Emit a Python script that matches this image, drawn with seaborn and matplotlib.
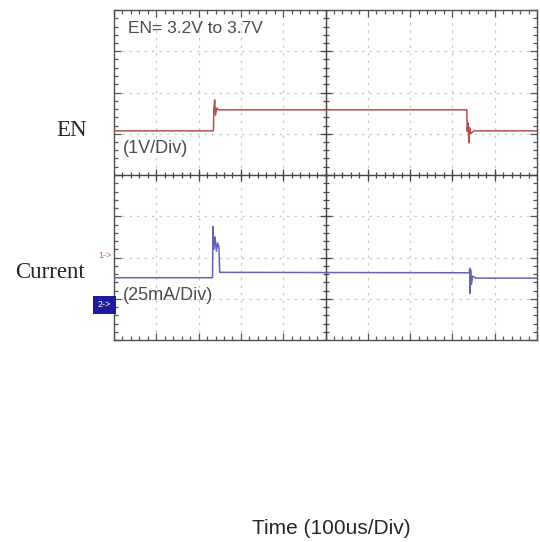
import numpy as np
import pandas as pd
import matplotlib
matplotlib.use("Agg")
import matplotlib.pyplot as plt
import seaborn as sns

# traces in screen divisions (x: 0..10 div, y: 0..8 div)
en_t = [0, 2.35, 2.36, 2.38, 2.40, 2.43, 2.47, 8.34, 8.35, 8.37, 8.39, 8.41, 8.44, 8.50, 10]
en_v = [5.07, 5.07, 5.60, 5.82, 5.45, 5.62, 5.58, 5.58, 5.06, 5.26, 4.78, 5.15, 5.00, 5.07, 5.07]

cur_t = [0, 2.33, 2.34, 2.36, 2.39, 2.42, 2.45, 2.48, 2.50, 8.40, 8.41, 8.42, 8.43, 8.45, 8.48, 8.55, 10]
cur_v = [1.51, 1.51, 2.75, 2.20, 2.50, 2.15, 2.35, 2.26, 1.64, 1.63, 1.74, 1.13, 1.70, 1.35, 1.55, 1.50, 1.50]

en_color = "#b55050"
cur_color = "#6262b8"

sns.set_style("white")
plt.rcParams['font.family'] = ['Liberation Sans', 'DejaVu Sans']

fig = plt.figure(figsize=(5.4, 5.42), dpi=100)
ax = fig.add_axes([114 / 540, 1 - 340 / 542, 423 / 540, 330 / 542])

df_en = pd.DataFrame({"t": en_t, "v": en_v})
df_cur = pd.DataFrame({"t": cur_t, "v": cur_v})
sns.lineplot(data=df_en, x="t", y="v", ax=ax, sort=False, estimator=None,
             color=en_color, linewidth=1.1, zorder=5)
sns.lineplot(data=df_cur, x="t", y="v", ax=ax, sort=False, estimator=None,
             color=cur_color, linewidth=1.1, zorder=5)

ax.set_xlim(0, 10)
ax.set_ylim(0, 8)
ax.set_xlabel("")
ax.set_ylabel("")

# graticule
ax.set_xticks(np.arange(0, 11, 1))
ax.set_yticks(np.arange(0, 9, 1))
ax.set_xticks(np.arange(0, 10.01, 0.2), minor=True)
ax.set_yticks(np.arange(0, 8.01, 0.2), minor=True)
ax.tick_params(which="both", direction="in", top=True, right=True, bottom=True, left=True,
               labelbottom=False, labelleft=False, color="#555555", width=0.9)
ax.tick_params(which="major", length=5)
ax.tick_params(which="minor", length=3)
ax.grid(True, which="major", color="#c8c8c8", linestyle=(0, (2, 4)), linewidth=0.9)
for s in ax.spines.values():
    s.set_color("#505050")
    s.set_linewidth(1.0)

ax.axhline(4, color="#454545", linewidth=1.0, zorder=3)
ax.axvline(5, color="#454545", linewidth=1.0, zorder=3)
mx = np.arange(0, 10.01, 0.2)
my = np.arange(0, 8.01, 0.2)
ax.plot(mx, np.full_like(mx, 4), linestyle="none", marker="|", markersize=5,
        color="#454545", markeredgewidth=0.9, zorder=3)
ax.plot(np.full_like(my, 5), my, linestyle="none", marker="_", markersize=5,
        color="#454545", markeredgewidth=0.9, zorder=3)
ax.plot(np.arange(1, 10), np.full(9, 4), linestyle="none", marker="|", markersize=8,
        color="#454545", markeredgewidth=0.9, zorder=3)
ax.plot(np.full(7, 5), np.arange(1, 8), linestyle="none", marker="_", markersize=8,
        color="#454545", markeredgewidth=0.9, zorder=3)

# screen annotations
scr = "#4d4d4d"
ax.text(0.33, 7.54, "EN= 3.2V to 3.7V", fontsize=12.5, color=scr, va="center", ha="left")
ax.text(0.21, 4.64, "(1V/Div)", fontsize=13, color=scr, va="center", ha="left")
ax.text(0.21, 1.09, "(25mA/Div)", fontsize=13, color=scr, va="center", ha="left")
ax.text(-0.05, 2.04, "1->", fontsize=6.5, color="#c06070", va="center", ha="right", clip_on=False)
ax.text(-0.07, 0.86, "2->", fontsize=6.5, color="white", va="center", ha="right", clip_on=False,
        bbox=dict(boxstyle="square,pad=0.5", facecolor="#1c1c9c", edgecolor="none"))

# outer labels
fig.text(72 / 540, 1 - 130 / 542, "EN", fontsize=16.5, family="Liberation Serif",
         ha="center", va="center")
fig.text(50 / 540, 1 - 272 / 542, "Current", fontsize=16.5, family="Liberation Serif",
         ha="center", va="center")
fig.text(331 / 540, 1 - 528 / 542, "Time (100us/Div)", fontsize=15,
         ha="center", va="center")

fig.savefig("out.png", dpi=100, facecolor="white")
